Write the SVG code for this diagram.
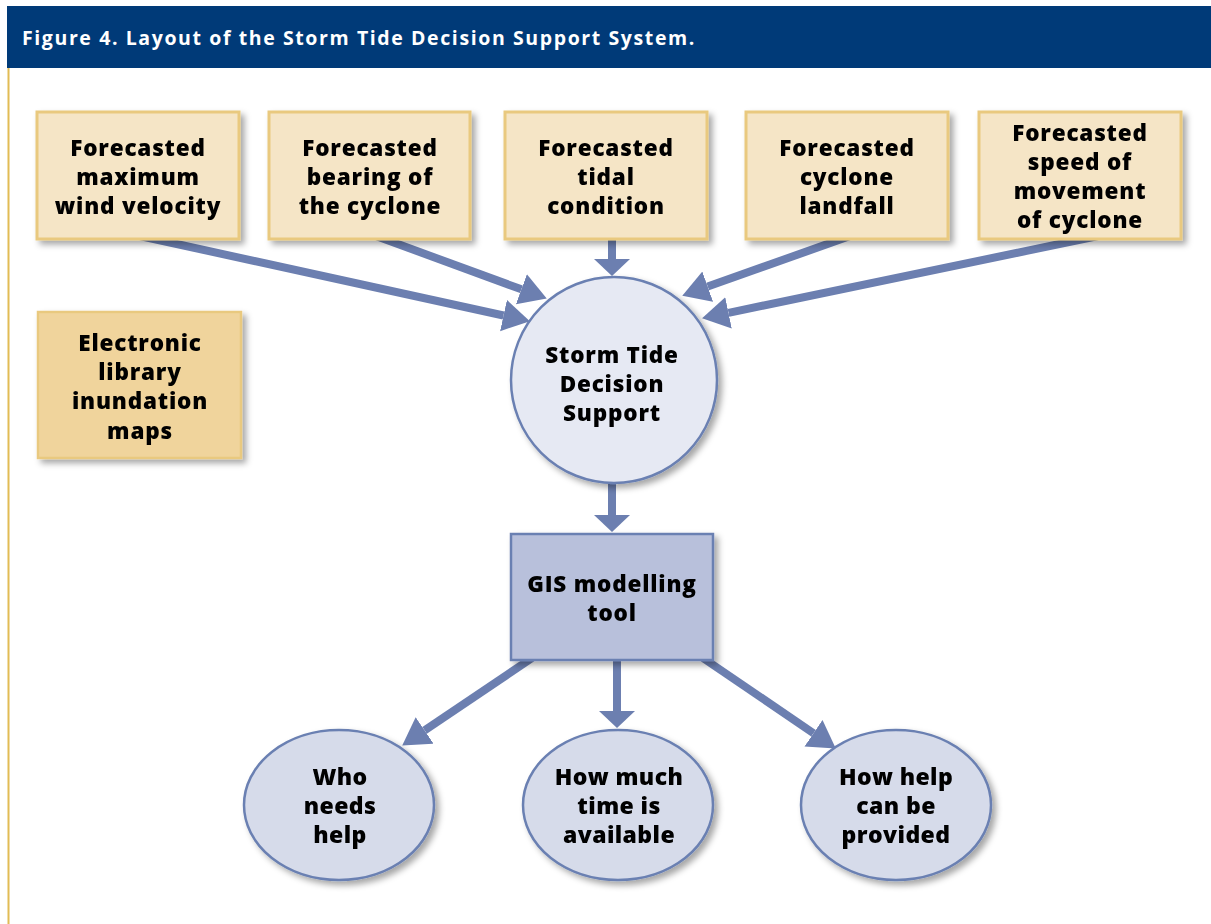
<svg xmlns="http://www.w3.org/2000/svg" width="1211" height="924" viewBox="0 0 1211 924">
<defs>
<style>
.t{font-family:"Open Sans","Noto Sans",sans-serif;font-weight:800;font-size:22.5px;letter-spacing:0.8px;fill:#000;text-anchor:middle}
.nb{font-family:"Open Sans","Noto Sans",sans-serif;font-weight:800;font-size:23px;letter-spacing:0.4px;fill:#000;text-anchor:middle}
.box{fill:#f5e5c6;stroke:#e9c97f;stroke-width:3}
.lib{fill:#f0d49c;stroke:#e9c97f;stroke-width:2.5}
.circ{fill:#e6e9f3;stroke:#6b80b2;stroke-width:2.5}
.ell{fill:#d6dbea;stroke:#6b80b2;stroke-width:2.5}
.gis{fill:#b8c0db;stroke:#6b80b2;stroke-width:2.5}
.c{stroke:#6c7fb0;stroke-width:8;fill:none}
</style>
<filter id="sh" x="-20%" y="-20%" width="150%" height="150%">
<feDropShadow dx="4" dy="4" stdDeviation="3" flood-color="#000" flood-opacity="0.35"/>
</filter>
<marker id="hd" markerUnits="userSpaceOnUse" markerWidth="30" markerHeight="34" refX="0" refY="16" orient="auto">
<path d="M0,0 L27,16 L0,32 Z" fill="#6c7fb0"/>
</marker>
<marker id="hv" markerUnits="userSpaceOnUse" markerWidth="19" markerHeight="38" refX="0" refY="18" orient="auto">
<path d="M0,0 L17,18 L0,36 Z" fill="#6c7fb0"/>
</marker>
</defs>
<rect x="0" y="0" width="1211" height="924" fill="#fff"/>
<rect x="7" y="6" width="1204" height="62" fill="#003a78"/>
<text x="22" y="45" style="font-family:'Open Sans','Noto Sans',sans-serif;font-weight:bold;font-size:19.5px;letter-spacing:1.6px;fill:#fff">Figure 4. Layout of the Storm Tide Decision Support System.</text>
<line x1="8.5" y1="68" x2="8.5" y2="924" stroke="#e2bc55" stroke-width="2"/>

<g id="connectors">
<line class="c" x1="140" y1="236" x2="503.5" y2="315.5" marker-end="url(#hd)"/>
<line class="c" x1="376" y1="236" x2="521.4" y2="289.3" marker-end="url(#hd)"/>
<line class="c" x1="612" y1="236" x2="612" y2="259" marker-end="url(#hv)"/>
<line class="c" x1="850" y1="236" x2="707.7" y2="286.6" marker-end="url(#hd)"/>
<line class="c" x1="1098" y1="236" x2="728.5" y2="312.8" marker-end="url(#hd)"/>
<line class="c" x1="612" y1="480" x2="612" y2="515" marker-end="url(#hv)"/>
<line class="c" x1="532" y1="658" x2="424.6" y2="730.4" marker-end="url(#hd)"/>
<line class="c" x1="617" y1="658" x2="617" y2="711" marker-end="url(#hv)"/>
<line class="c" x1="703" y1="658" x2="813.5" y2="733.2" marker-end="url(#hd)"/>
</g>

<g id="n1" filter="url(#sh)"><rect class="box" x="37" y="112" width="202" height="127"/>
<text class="t"><tspan x="138" y="156">Forecasted</tspan><tspan x="138" y="185">maximum</tspan><tspan x="138" y="214">wind velocity</tspan></text></g>
<g id="n2" filter="url(#sh)"><rect class="box" x="269" y="112" width="201" height="127"/>
<text class="t"><tspan x="370" y="156">Forecasted</tspan><tspan x="370" y="185">bearing of</tspan><tspan x="370" y="214">the cyclone</tspan></text></g>
<g id="n3" filter="url(#sh)"><rect class="box" x="505" y="112" width="202" height="127"/>
<text class="t"><tspan x="606" y="156">Forecasted</tspan><tspan x="606" y="185">tidal</tspan><tspan x="606" y="214">condition</tspan></text></g>
<g id="n4" filter="url(#sh)"><rect class="box" x="746" y="112" width="202" height="127"/>
<text class="t"><tspan x="847" y="156">Forecasted</tspan><tspan x="847" y="185">cyclone</tspan><tspan x="847" y="214">landfall</tspan></text></g>
<g id="n5" filter="url(#sh)"><rect class="box" x="979" y="112" width="202" height="127"/>
<text class="t"><tspan x="1080" y="141">Forecasted</tspan><tspan x="1080" y="170">speed of</tspan><tspan x="1080" y="199">movement</tspan><tspan x="1080" y="228">of cyclone</tspan></text></g>

<g id="library" filter="url(#sh)"><rect class="lib" x="38" y="312" width="203" height="146"/>
<text class="t"><tspan x="140" y="351">Electronic</tspan><tspan x="140" y="380">library</tspan><tspan x="140" y="409">inundation</tspan><tspan x="140" y="439">maps</tspan></text></g>

<g id="stds" filter="url(#sh)"><circle class="circ" cx="614" cy="380" r="103"/>
<text class="t"><tspan x="612" y="363">Storm Tide</tspan><tspan x="612" y="392">Decision</tspan><tspan x="612" y="421">Support</tspan></text></g>

<g id="gis" filter="url(#sh)"><rect class="gis" x="511" y="534" width="202" height="126"/>
<text class="t"><tspan x="612" y="592">GIS modelling</tspan><tspan x="612" y="621">tool</tspan></text></g>

<g id="who" filter="url(#sh)"><ellipse class="ell" cx="339" cy="805" rx="95" ry="75"/>
<text class="nb"><tspan x="340" y="785">Who</tspan><tspan x="340" y="814">needs</tspan><tspan x="340" y="843">help</tspan></text></g>
<g id="time" filter="url(#sh)"><ellipse class="ell" cx="618" cy="805" rx="95" ry="75"/>
<text class="nb"><tspan x="619" y="785">How much</tspan><tspan x="619" y="814">time is</tspan><tspan x="619" y="843">available</tspan></text></g>
<g id="how" filter="url(#sh)"><ellipse class="ell" cx="896" cy="805" rx="95" ry="75"/>
<text class="nb"><tspan x="896" y="785">How help</tspan><tspan x="896" y="814">can be</tspan><tspan x="896" y="843">provided</tspan></text></g>
</svg>
